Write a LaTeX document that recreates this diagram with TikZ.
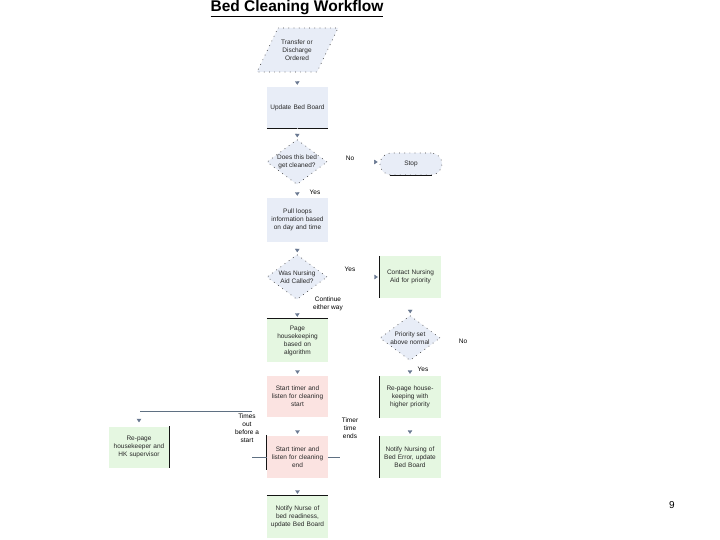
\documentclass[tikz,border=0pt]{standalone}
\usepackage{fontspec}
\setmainfont{Liberation Sans}
\usetikzlibrary{shapes.geometric,arrows.meta}
\definecolor{bluef}{RGB}{232,237,247}
\definecolor{greenf}{RGB}{229,247,225}
\definecolor{pinkf}{RGB}{251,227,225}
\definecolor{tipc}{RGB}{105,120,145}
\definecolor{linec}{RGB}{95,112,130}
\definecolor{edgec}{RGB}{20,20,20}
\definecolor{txtc}{RGB}{40,40,40}
\tikzset{
  every node/.style={font=\fontsize{6.5}{8}\selectfont, text=txtc, align=center},
  box/.style={rectangle, minimum width=61pt, minimum height=42pt, inner sep=1pt, text width=59pt},
  bluebox/.style={box, fill=bluef},
  greenbox/.style={box, fill=greenf},
  pinkbox/.style={box, fill=pinkf},
  dots/.style={draw=black!75, line width=0.7pt, dash pattern=on 0.7pt off 4.5pt},
  decision/.style={diamond, fill=bluef, dots, minimum width=60pt, minimum height=45pt, inner sep=0pt, aspect=1.35},
  terminal/.style={rectangle, rounded corners=11pt, fill=bluef, dots, minimum width=62pt, minimum height=22pt},
  conn/.style={draw=white, line width=0.4pt, -{Triangle[width=4.5pt,length=3.5pt,color=tipc]}, shorten >=2pt},
  vis/.style={draw=linec, line width=0.9pt},
  darkedge/.style={draw=edgec, line width=1.3pt},
  lbl/.style={font=\fontsize{6.5}{8}\selectfont, text=black},
}
\begin{document}
\begin{tikzpicture}[x=1pt,y=-1pt]
\useasboundingbox[fill=white] (0,0) rectangle (720,540);

% title
\node[font=\bfseries\fontsize{15.5}{17}\selectfont, text=black] (title) at (297,9) {\underline{Bed Cleaning Workflow}};

% parallelogram
\coordinate (oc) at (297,50);
\path[fill=bluef, dots] (278,28) -- (338,28) -- (317,72) -- (257,72) -- cycle;
\node[rectangle, minimum width=61pt, minimum height=44pt, inner sep=0pt] (order) at (oc) {Transfer or\\Discharge\\Ordered};

% main column
\node[bluebox, minimum height=41pt] (update) at (297.5,107.5) {Update Bed Board};
\node[decision] (d1) at (297,162) {Does this bed\\get cleaned?};
\node[terminal] (stop) at (411,164) {Stop};
\node[bluebox, minimum height=44pt] (pull) at (297.5,220) {Pull loops\\information based\\on day and time};
\node[decision] (d2) at (297,277) {Was Nursing\\Aid Called?};
\node[greenbox] (contact) at (410.5,277) {Contact Nursing\\Aid for priority};
\node[greenbox, minimum height=43pt] (page) at (297.5,340.5) {Page\\housekeeping\\based on\\algorithm};
\node[decision] (d3) at (410,338) {Priority set\\above normal};
\node[pinkbox, minimum height=41pt] (startA) at (297.5,396.5) {Start timer and\\listen for cleaning\\start};
\node[greenbox, minimum width=60pt] (repageP) at (410,397) {Re-page house-\\keeping with\\higher priority};
\node[pinkbox] (startB) at (297.5,457) {Start timer and\\listen for cleaning\\end};
\node[greenbox, minimum width=60pt] (errorN) at (410,457) {Notify Nursing of\\Bed Error, update\\Bed Board};
\node[greenbox] (notifyN) at (297.5,517) {Notify Nurse of\\bed readiness,\\update Bed Board};
\node[greenbox, minimum height=41pt] (repageHK) at (139,447) {Re-page\\housekeeper and\\HK supervisor};

% dark edges
\draw[darkedge] (update.south west) -- (update.south east);
\draw[darkedge] ([xshift=10pt]stop.south west) -- ([xshift=-10pt]stop.south east);
\draw[darkedge] (contact.north west) -- (contact.south west);
\draw[darkedge] (page.north west) -- (page.north east);
\draw[darkedge] (repageP.north west) -- (repageP.south west);
\draw[darkedge] (errorN.north west) -- (errorN.south west);
\draw[darkedge] ([yshift=1pt]startB.north west) -- ([yshift=8pt]startB.south west);
\draw[darkedge] (repageHK.north east) -- (repageHK.south east);
\draw[darkedge] (notifyN.north west) -- (notifyN.north east);

% connectors
\draw[conn] (order) -- (update);
\draw[conn] (update) -- (d1);
\draw[conn] (d1.east) -- (d1.east -| stop.west);
\draw[conn] (d1) -- (pull);
\draw[conn] (pull) -- (d2);
\draw[conn] (d2.east) -- (d2.east -| contact.west);
\draw[conn] (d2) -- (page);
\draw[conn] (contact) -- (d3);
\draw[conn] (d3) -- (repageP);
\draw[conn] (page) -- (startA);
\draw[conn] (startA) -- (startB);
\draw[conn] (repageP) -- (errorN);
\draw[conn] (startB) -- (notifyN);
\coordinate (toB) at (139,411);
\draw[vis, shorten <=15pt] (startA.west |- toB) -- (toB);
\draw[conn, shorten >=4pt] (toB) -- (repageHK.north);
\coordinate (sbL) at (252,457);
\coordinate (sbR) at (340,457);
\draw[vis] (sbL) -- (startB.west);
\draw[vis] (startB.east) -- (sbR);

% labels
\node[lbl] (noA) at (350,158) {No};
\node[lbl] (yesA) at (315,192) {Yes};
\node[lbl] (yesB) at (350,269) {Yes};
\node[lbl] (cont) at (328,304) {Continue\\either way};
\node[lbl] (noB) at (463,341) {No};
\node[lbl] (yesC) at (423,369) {Yes};
\node[lbl] (tout) at (247,428) {Times\\out\\before a\\start};
\node[lbl] (tend) at (350,428) {Timer\\time\\ends};
\node[font=\fontsize{10}{12}\selectfont, text=black] (pg) at (672,505) {9};
\end{tikzpicture}
\end{document}
